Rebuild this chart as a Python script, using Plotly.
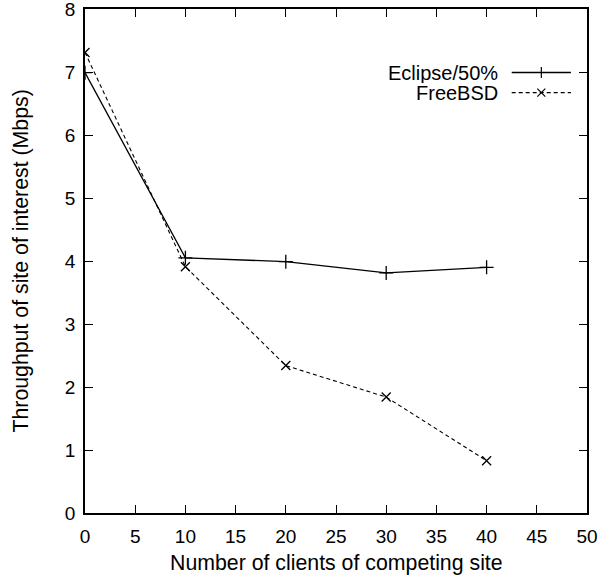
import plotly.graph_objects as go

clients = [0, 10, 20, 30, 40]
eclipse = [6.99, 4.05, 3.99, 3.81, 3.90]
freebsd = [7.31, 3.91, 2.34, 1.84, 0.83]
x_ticks = [0, 5, 10, 15, 20, 25, 30, 35, 40, 45, 50]
y_ticks = [0, 1, 2, 3, 4, 5, 6, 7, 8]
series_names = ["Eclipse/50%", "FreeBSD"]
x_title = "Number of clients of competing site"
y_title = "Throughput of site of interest (Mbps)"

FONT = "Liberation Sans, Arial, Helvetica, sans-serif"

fig = go.Figure()
fig.add_trace(go.Scatter(x=clients, y=eclipse, mode="lines+markers", name=series_names[0],
                         line=dict(color="black", width=1.3),
                         marker=dict(symbol="cross-thin", size=10, line=dict(color="black", width=1.3)),
                         showlegend=False))
fig.add_trace(go.Scatter(x=clients, y=freebsd, mode="lines+markers", name=series_names[1],
                         line=dict(color="black", width=1.1, dash="4px,3px"),
                         marker=dict(symbol="x-thin", size=9, line=dict(color="black", width=1.3)),
                         showlegend=False))

# legend samples on overlay axes (0..1 coordinates over the plot area)
leg_y = [0.874, 0.834]
styles = [
    (dict(color="black", width=1.3), "cross-thin"),
    (dict(color="black", width=1.1, dash="4px,3px"), "x-thin"),
]
for name, yy, (ln, sym) in zip(series_names, leg_y, styles):
    fig.add_trace(go.Scatter(x=[0.85, 0.968], y=[yy, yy], mode="lines", line=ln,
                             xaxis="x2", yaxis="y2", showlegend=False, hoverinfo="skip"))
    fig.add_trace(go.Scatter(x=[0.909], y=[yy], mode="markers",
                             marker=dict(symbol=sym, size=8, line=dict(color="black", width=1.2)),
                             xaxis="x2", yaxis="y2", showlegend=False, hoverinfo="skip"))
    fig.add_annotation(x=0.824, y=yy, xref="x2", yref="y2", text=name, showarrow=False,
                       xanchor="right", yanchor="middle", height=20, borderpad=0,
                       font=dict(family=FONT, size=20, color="black"))

fig.add_annotation(x=0.5, y=-0.099, xref="paper", yref="paper", text=x_title, showarrow=False,
                   xanchor="center", yanchor="middle", font=dict(family=FONT, size=21.3, color="black"))
fig.add_annotation(x=-0.1284, y=0.5, xref="paper", yref="paper", text=y_title, showarrow=False,
                   textangle=-90, xanchor="center", yanchor="middle",
                   font=dict(family=FONT, size=21.3, color="black"))

axis_common = dict(showgrid=False, zeroline=False, showline=True, linecolor="black", linewidth=1.5,
                   mirror="allticks", ticks="inside", ticklen=8, tickwidth=1, tickcolor="black",
                   automargin=False, ticklabeloverflow="allow",
                   tickfont=dict(family=FONT, size=19, color="black"))

fig.update_layout(
    width=608, height=582,
    margin=dict(l=85, r=21, t=9, b=69),
    paper_bgcolor="white", plot_bgcolor="white",
    xaxis=dict(range=[0, 50], tickvals=x_ticks, ticktext=[str(v) for v in x_ticks],
               ticklabelstandoff=5, **axis_common),
    yaxis=dict(range=[0, 8], tickvals=y_ticks, ticktext=[str(v) for v in y_ticks],
               ticklabelstandoff=4, **axis_common),
    xaxis2=dict(overlaying="x", range=[0, 1], visible=False),
    yaxis2=dict(overlaying="y", range=[0, 1], visible=False),
)

fig.write_html("out.html", config={"displayModeBar": False},
               post_script="document.body.style.margin='0px';")
